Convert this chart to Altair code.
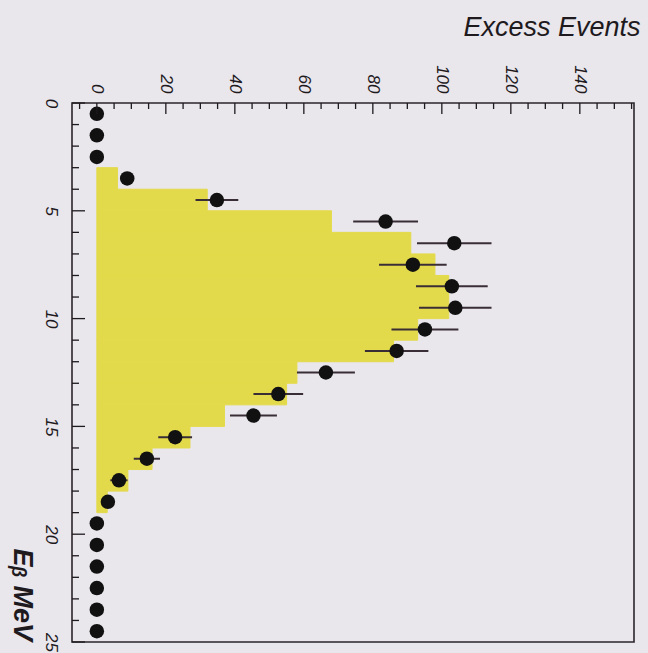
import altair as alt
import pandas as pd

# ---- data ----
bin_lo = list(range(25))
hist_vals = [0, 0, 0, 6, 32, 68, 91, 98, 102, 102, 93, 86, 58, 55, 37, 27, 16, 9, 3, 0, 0, 0, 0, 0, 0]
e_centers = [i + 0.5 for i in range(25)]
excess = [0, 0, 0, 8.8, 34.8, 83.7, 103.6, 91.6, 102.9, 103.9, 95.1, 86.9, 66.4, 52.6, 45.4,
          22.7, 14.5, 6.4, 3.2, 0, 0, 0, 0, 0, 0]
errors = [0, 0, 0, 2, 6.2, 9.4, 10.8, 9.8, 10.4, 10.5, 9.7, 9.2, 8.4, 7.2, 6.8,
          4.9, 3.8, 2.5, 1.5, 0, 0, 0, 0, 0, 0]
v_labels = [0, 20, 40, 60, 80, 100, 120, 140]
e_labels = [0, 5, 10, 15, 20, 25]
v_minor = [v for v in range(-5, 156, 5) if v % 20 != 0]
v_major = [v for v in range(0, 156, 20)]
e_minor = [e for e in range(0, 26) if e % 5 != 0]
e_major = [e for e in range(0, 26, 5)]

YELLOW = "#e3da4b"
BG = "#e9e6ec"
INK = "#1e1a1e"
FONT = "Liberation Sans"

hist_df = pd.DataFrame({"lo": bin_lo, "hi": [b + 1 for b in bin_lo], "zero": [0] * 25, "val": hist_vals})
hist_df = hist_df[hist_df["val"] > 0].reset_index(drop=True)
pts_df = pd.DataFrame({"e": e_centers, "v": excess, "err": errors})
pts_df["lo"] = pts_df["v"] - pts_df["err"]
pts_df["hi"] = pts_df["v"] + pts_df["err"]
err_df = pts_df[pts_df["err"] > 0].reset_index(drop=True)

xs = alt.Scale(domain=[-7.2, 155.7], nice=False, zero=False)
ys = alt.Scale(domain=[0, 25], reverse=True, nice=False, zero=False)

xaxis = alt.Axis(
    orient="top", values=v_labels, title="Excess Events", grid=False, domain=False,
    ticks=False, labelAngle=90, labelAlign="right", labelBaseline="middle",
    labelPadding=10, labelFont=FONT, labelFontSize=17, labelFontStyle="italic", labelColor=INK,
    titleX=568, titleY=-68, titleAngle=0, titleAlign="right", titleBaseline="alphabetic",
    titleFont=FONT, titleFontSize=27, titleFontStyle="italic", titleFontWeight="normal",
    titleColor=INK,
)
yaxis = alt.Axis(
    orient="left", values=e_labels, title="Eᵦ MeV", grid=False, domain=False,
    ticks=False, labelAngle=90, labelAlign="center", labelBaseline="top",
    labelPadding=14, labelFont=FONT, labelFontSize=17, labelFontStyle="italic", labelColor=INK,
    titleX=-59, titleY=445, titleAngle=90, titleAlign="left", titleBaseline="alphabetic",
    titleFont=FONT, titleFontSize=27, titleFontStyle="italic", titleFontWeight="bold",
    titleColor=INK,
)

hist = alt.Chart(hist_df).mark_rect(color=YELLOW, stroke=YELLOW, strokeWidth=1).encode(
    x=alt.X("zero:Q", scale=xs, axis=xaxis),
    x2="val:Q",
    y=alt.Y("lo:Q", scale=ys, axis=yaxis),
    y2="hi:Q",
)

errbars = alt.Chart(err_df).mark_rule(color="#3a2e36", strokeWidth=2).encode(
    x=alt.X("lo:Q", scale=xs, axis=xaxis),
    x2="hi:Q",
    y=alt.Y("e:Q", scale=ys, axis=yaxis),
)

points = alt.Chart(pts_df).mark_circle(size=210, color="#111111", opacity=1).encode(
    x=alt.X("v:Q", scale=xs, axis=xaxis),
    y=alt.Y("e:Q", scale=ys, axis=yaxis),
)

def vticks(vals, length):
    return alt.Chart(pd.DataFrame({"t": vals})).mark_rule(color=INK, strokeWidth=1.3).encode(
        x=alt.X("t:Q", scale=xs, axis=xaxis), y=alt.value(0), y2=alt.value(length)
    )

def eticks(vals, length):
    return alt.Chart(pd.DataFrame({"t": vals})).mark_rule(color=INK, strokeWidth=1.3).encode(
        y=alt.Y("t:Q", scale=ys, axis=yaxis), x=alt.value(0), x2=alt.value(length)
    )

chart = alt.layer(
    hist, errbars, points,
    vticks(v_minor, 6), vticks(v_major, 11),
    eticks(e_minor, 7), eticks(e_major, 13),
).properties(
    width=562, height=539,
    autosize=alt.AutoSizeParams(type="none"),
    padding={"left": 72, "top": 103, "right": 14, "bottom": 11},
    background=BG,
).configure_view(stroke="#2a262a", strokeWidth=1.6, fill=BG)

chart.save("out.html", embed_options={"renderer": "svg", "actions": False})
